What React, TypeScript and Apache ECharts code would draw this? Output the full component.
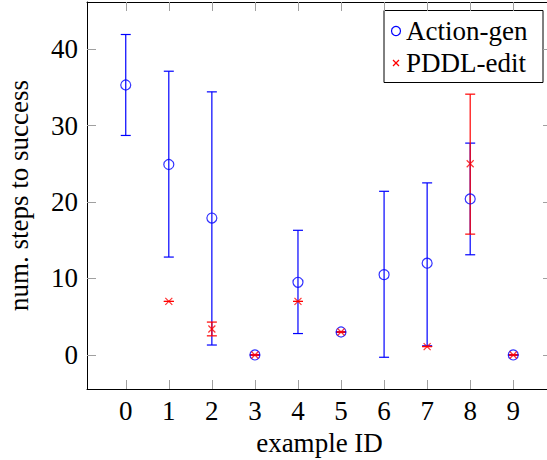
import React, { useEffect, useRef } from "react";
import * as echarts from "echarts";

const exampleIds = [0, 1, 2, 3, 4, 5, 6, 7, 8, 9];
const actionMean = [35.3, 24.9, 17.9, 0, 9.5, 3.0, 10.5, 12.0, 20.4, 0];
const actionLow = [28.7, 12.8, 1.3, 0, 2.8, 3.0, -0.3, 1.2, 13.1, 0];
const actionHigh = [41.9, 37.1, 34.4, 0, 16.3, 3.0, 21.4, 22.5, 27.7, 0];
const pddlMean: (number | null)[] = [null, 7, 3.4, 0, 7, 3, null, 1.1, 25.0, 0];
const pddlLow: (number | null)[] = [null, 7, 2.5, 0, 7, 3, null, 1.1, 15.8, 0];
const pddlHigh: (number | null)[] = [null, 7, 4.3, 0, 7, 3, null, 1.1, 34.1, 0];
const yTicks = [0, 10, 20, 30, 40];

const FONT = "'Liberation Serif', 'Times New Roman', serif";
const FS = 27;
const BLUE = "#0000ff";
const RED = "#ff0000";
const TICK = "#a0a0a0";

function errorItem(color: string) {
  return (params: any, api: any) => {
    const x = api.value(0);
    const lo = api.coord([x, api.value(1)]);
    const hi = api.coord([x, api.value(2)]);
    const w = 5;
    const style = { stroke: color, lineWidth: 1.2 };
    return {
      type: "group",
      children: [
        { type: "line", shape: { x1: lo[0], y1: lo[1], x2: hi[0], y2: hi[1] }, style },
        { type: "line", shape: { x1: lo[0] - w, y1: lo[1], x2: lo[0] + w, y2: lo[1] }, style },
        { type: "line", shape: { x1: hi[0] - w, y1: hi[1], x2: hi[0] + w, y2: hi[1] }, style },
      ],
    };
  };
}

export default function App() {
  const ref = useRef<HTMLDivElement>(null);
  useEffect(() => {
    if (!ref.current) return;
    const chart = echarts.init(ref.current, null, { renderer: "svg" });
    const actionErr = exampleIds.map((id, i) => [id, actionLow[i], actionHigh[i]]);
    const pddlErr = exampleIds
      .map((id, i) => [id, pddlLow[i], pddlHigh[i]])
      .filter((d) => d[1] !== null);
    const actionPts = exampleIds.map((id, i) => [id, actionMean[i]]);
    const pddlPts = exampleIds
      .map((id, i) => [id, pddlMean[i]])
      .filter((d) => d[1] !== null);

    const xCommon = {
      type: "value",
      min: -0.9,
      max: 9.9,
      splitLine: { show: false },
      axisLine: { show: true, onZero: false, lineStyle: { color: "#000", width: 1 } },
      axisTick: {
        show: true,
        inside: true,
        length: 9,
        customValues: exampleIds,
        lineStyle: { color: TICK, width: 1 },
      },
    };
    const yCommon = {
      type: "value",
      min: -4.45,
      max: 46.15,
      splitLine: { show: false },
      axisLine: { show: true, onZero: false, lineStyle: { color: "#000", width: 1 } },
      axisTick: {
        show: true,
        inside: true,
        length: 9,
        customValues: yTicks,
        lineStyle: { color: TICK, width: 1 },
      },
    };

    const txt = { fontFamily: FONT, fontSize: FS, color: "#000" };

    chart.setOption({
      animation: false,
      textStyle: { fontFamily: FONT },
      grid: {
        left: 87,
        top: 2,
        width: 465,
        height: 387,
        containLabel: false,
        outerBoundsMode: "none",
      },
      xAxis: [
        {
          ...xCommon,
          position: "bottom",
          name: "example ID",
          nameLocation: "middle",
          nameGap: 40,
          nameTextStyle: txt,
          axisLabel: { customValues: exampleIds, margin: 8, ...txt },
        },
        { ...xCommon, position: "top", axisLabel: { show: false } },
      ],
      yAxis: [
        {
          ...yCommon,
          position: "left",
          name: "num. steps to success",
          nameLocation: "middle",
          nameGap: 55,
          nameTextStyle: txt,
          axisLabel: { customValues: yTicks, margin: 9, ...txt },
        },
        { ...yCommon, position: "right", axisLabel: { show: false } },
      ],
      series: [
        {
          name: "Action-gen error",
          type: "custom",
          renderItem: errorItem(BLUE),
          data: actionErr,
          z: 2,
        },
        {
          name: "PDDL-edit error",
          type: "custom",
          renderItem: errorItem(RED),
          data: pddlErr,
          z: 3,
        },
        {
          name: "Action-gen",
          type: "scatter",
          data: actionPts,
          symbol: "circle",
          symbolSize: 10,
          itemStyle: { color: "rgba(0,0,0,0)", borderColor: BLUE, borderWidth: 1.2 },
          z: 4,
        },
        {
          name: "PDDL-edit",
          type: "scatter",
          data: pddlPts,
          symbol: "path://M0,0L10,10M10,0L0,10",
          symbolSize: 7,
          itemStyle: { color: "rgba(0,0,0,0)", borderColor: RED, borderWidth: 1.2 },
          z: 5,
        },
      ],
      graphic: [
        {
          type: "group",
          z: 100,
          children: [
            {
              type: "rect",
              shape: { x: 384, y: 10.5, width: 159, height: 72 },
              style: { fill: "#fff", stroke: "#000", lineWidth: 1 },
            },
            {
              type: "circle",
              shape: { cx: 396, cy: 31, r: 4.5 },
              style: { fill: "none", stroke: BLUE, lineWidth: 1.2 },
            },
            {
              type: "line",
              shape: { x1: 393, y1: 60, x2: 399, y2: 66 },
              style: { stroke: RED, lineWidth: 1.2 },
            },
            {
              type: "line",
              shape: { x1: 399, y1: 60, x2: 393, y2: 66 },
              style: { stroke: RED, lineWidth: 1.2 },
            },
            {
              type: "text",
              x: 406,
              y: 31,
              style: {
                text: "Action-gen",
                font: FS + "px " + FONT,
                fill: "#000",
                verticalAlign: "middle",
                align: "left",
              },
            },
            {
              type: "text",
              x: 406,
              y: 63,
              style: {
                text: "PDDL-edit",
                font: FS + "px " + FONT,
                fill: "#000",
                verticalAlign: "middle",
                align: "left",
              },
            },
          ],
        },
      ],
    });
    return () => chart.dispose();
  }, []);
  return (
    <div
      ref={ref}
      style={{ position: "fixed", left: 0, top: 0, width: 547, height: 460, background: "#fff" }}
    />
  );
}
